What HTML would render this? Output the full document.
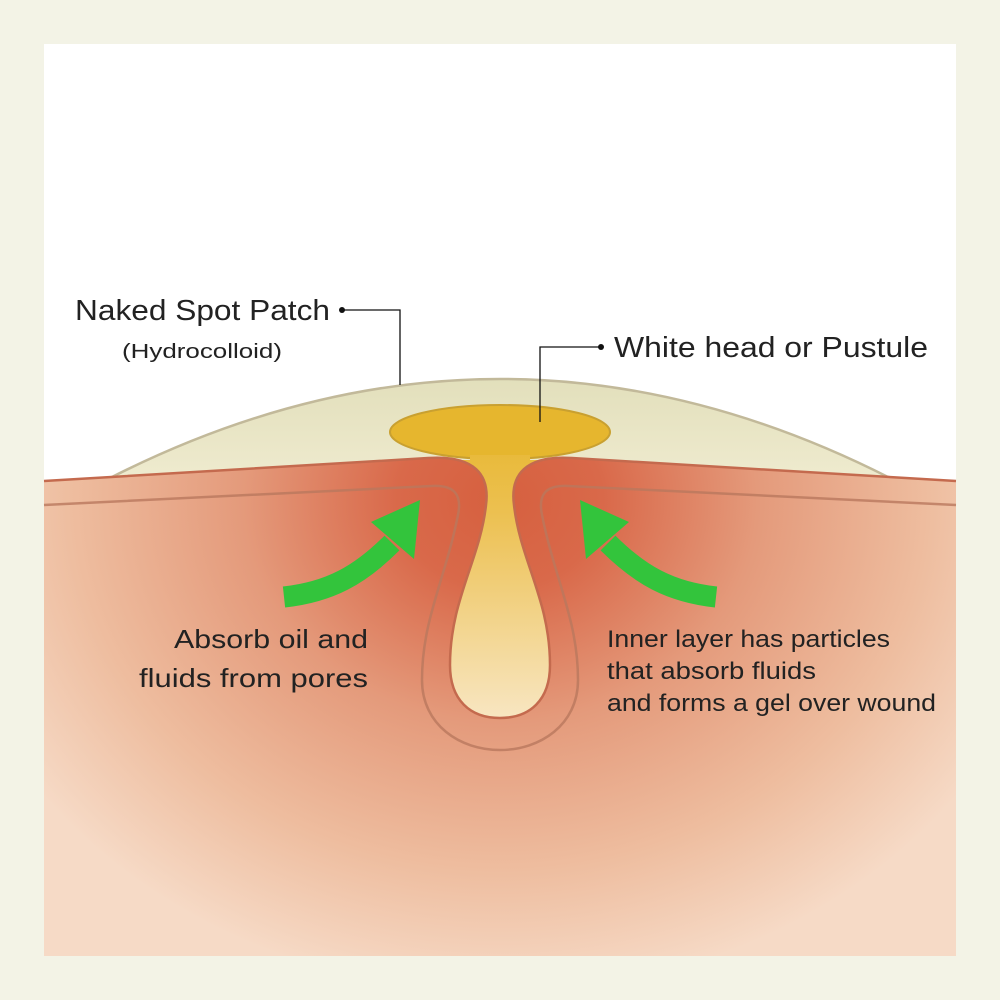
<!DOCTYPE html>
<html><head><meta charset="utf-8"><style>
html,body{margin:0;padding:0;background:#f3f3e6}
svg{display:block}
text{font-family:"Liberation Sans",sans-serif;fill:#222}
</style></head><body>
<svg width="1000" height="1000" viewBox="0 0 1000 1000">
<defs>
<radialGradient id="sk" cx="500" cy="500" r="520" gradientUnits="userSpaceOnUse" gradientTransform="translate(500 500) scale(1.1 0.95) translate(-500 -500)">
<stop offset="0" stop-color="#d6603f"/>
<stop offset="0.18" stop-color="#d9694a"/>
<stop offset="0.45" stop-color="#e49a7b"/>
<stop offset="0.75" stop-color="#eebd9f"/>
<stop offset="1" stop-color="#f6dac6"/>
</radialGradient>
<linearGradient id="yl" x1="0" y1="400" x2="0" y2="720" gradientUnits="userSpaceOnUse">
<stop offset="0" stop-color="#e6b528"/>
<stop offset="0.35" stop-color="#ecc050"/>
<stop offset="1" stop-color="#f8e6c2"/>
</linearGradient>
<linearGradient id="pt" x1="0" y1="378" x2="0" y2="480" gradientUnits="userSpaceOnUse">
<stop offset="0" stop-color="#e2dfbb"/>
<stop offset="1" stop-color="#efebcf"/>
</linearGradient>
</defs>
<rect x="0" y="0" width="1000" height="1000" fill="#f3f3e6"/>
<rect x="44" y="44" width="912" height="912" fill="#fff"/>
<path d="M110,478 Q500,280 890,478 Z" fill="url(#pt)" stroke="#c2b99a" stroke-width="2.5"/>
<ellipse cx="500" cy="432" rx="110" ry="27" fill="#e6b62e" stroke="#c9a030" stroke-width="2"/>
<path d="M470,455 L530,455 L530,720 L470,720 Z" fill="url(#yl)"/>
<path d="M460,460 C480,560 450,600 450,660 C450,700 470,718 500,718 C530,718 550,700 550,660 C550,600 520,560 540,460 Z" fill="url(#yl)"/>
<path d="M44,481 L428,458 C475,455 490,475 486,505 C480,560 450,600 450,665 C450,700 470,718 500,718 C530,718 550,700 550,665 C550,600 520,560 514,505 C510,475 525,455 572,458 L956,481 L956,956 L44,956 Z" fill="url(#sk)"/>
<path d="M44,481 L428,458 C475,455 490,475 486,505 C480,560 450,600 450,665 C450,700 470,718 500,718 C530,718 550,700 550,665 C550,600 520,560 514,505 C510,475 525,455 572,458 L956,481" fill="none" stroke="#c46a4e" stroke-width="2.5"/>
<path d="M44,505 L432,486 C455,485 462,495 458,515 C445,580 422,620 422,680 C422,725 460,750 500,750 C540,750 578,725 578,680 C578,620 555,580 542,515 C538,495 545,485 568,486 L956,505" fill="none" stroke="#b9785e" stroke-width="2.5" opacity="0.8"/>
<path d="M284,597 C330,592 360,575 392,543" fill="none" stroke="#33c43c" stroke-width="21"/>
<polygon points="420,500 371,522 414,559" fill="#33c43c"/>
<path d="M716,597 C670,592 640,575 608,543" fill="none" stroke="#33c43c" stroke-width="21"/>
<polygon points="580,500 629,522 586,559" fill="#33c43c"/>
<circle cx="342" cy="310" r="3" fill="#111"/>
<polyline points="342,310 400,310 400,385" fill="none" stroke="#111" stroke-width="1.3"/>
<circle cx="601" cy="347" r="3" fill="#111"/>
<polyline points="601,347 540,347 540,422" fill="none" stroke="#111" stroke-width="1.3"/>
<text x="75" y="320" font-size="29" textLength="255" lengthAdjust="spacingAndGlyphs">Naked Spot Patch</text>
<text x="122" y="358" font-size="20" textLength="160" lengthAdjust="spacingAndGlyphs">(Hydrocolloid)</text>
<text x="614" y="357" font-size="29" textLength="314" lengthAdjust="spacingAndGlyphs">White head or Pustule</text>
<text x="174" y="648" font-size="26" textLength="194" lengthAdjust="spacingAndGlyphs">Absorb oil and</text>
<text x="139" y="687" font-size="26" textLength="229" lengthAdjust="spacingAndGlyphs">fluids from pores</text>
<text x="607" y="647" font-size="24" textLength="283" lengthAdjust="spacingAndGlyphs">Inner layer has particles</text>
<text x="607" y="679" font-size="24" textLength="209" lengthAdjust="spacingAndGlyphs">that absorb fluids</text>
<text x="607" y="711" font-size="24" textLength="329" lengthAdjust="spacingAndGlyphs">and forms a gel over wound</text>
</svg>
</body></html>
